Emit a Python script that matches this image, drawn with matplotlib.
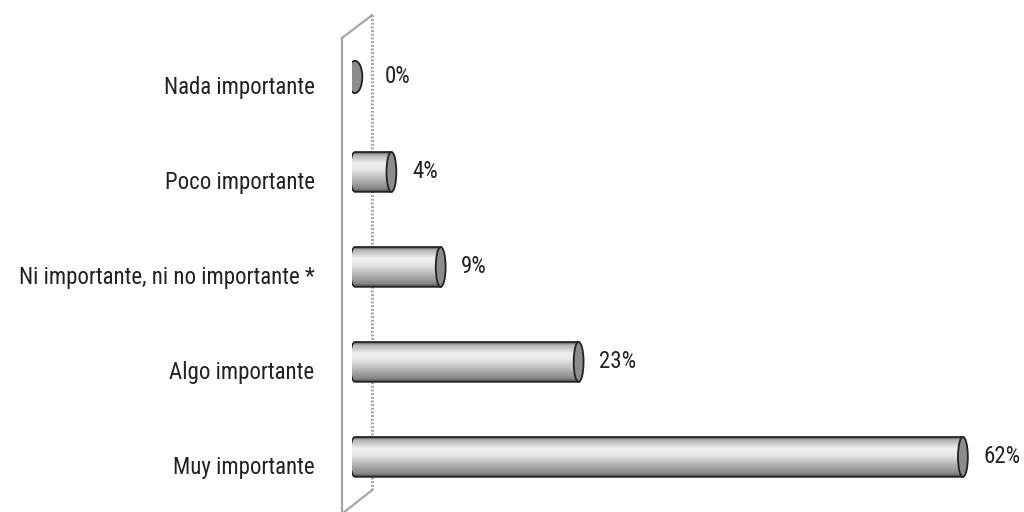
import numpy as np
import matplotlib.pyplot as plt
from matplotlib.colors import LinearSegmentedColormap
from matplotlib.patches import Ellipse, PathPatch
from matplotlib.path import Path

categories = ["Nada importante", "Poco importante", "Ni importante, ni no importante *",
              "Algo importante", "Muy importante"]
values = [0, 4, 9, 23, 62]
value_labels = ["0%", "4%", "9%", "23%", "62%"]

font = ["Roboto Condensed", "Liberation Sans", "DejaVu Sans"]

fig = plt.figure(figsize=(10.24, 5.12), dpi=100)
ax = fig.add_axes([352 / 1024, 0, 672 / 1024, 1])
ax.set_xlim(0, 68.2)
ax.set_ylim(4.58, -0.81)
ax.axis("off")

# back wall of the chart
wall = "#a6a6a6"
ax.plot([-1.02, -1.02], [-0.41, 4.6], color=wall, lw=1.6, clip_on=False, zorder=1)
ax.plot([2.03, 2.03], [-0.65, 4.35], color=wall, lw=2.2, ls=(0, (0.6, 0.6)),
        clip_on=False, zorder=1)
ax.plot([-1.02, 2.03], [-0.41, -0.65], color=wall, lw=1.6, clip_on=False, zorder=1)
ax.plot([-1.02, 2.03], [4.6, 4.35], color=wall, lw=1.6, clip_on=False, zorder=1)

shade = LinearSegmentedColormap.from_list(
    "cyl", [(0, "#4a4a4a"), (0.06, "#b0b0b0"), (0.28, "#f0f0f0"), (0.45, "#e6e6e6"),
            (0.78, "#a2a2a2"), (0.93, "#858585"), (1, "#3a3a3a")])
grad = np.linspace(0, 1, 64).reshape(-1, 1)

h = 0.42   # bar thickness in category units
cw = 1.0   # cap width in value units
x0 = 0.3

for i, (v, lab, txt) in enumerate(zip(values, categories, value_labels)):
    top, bot = i - h / 2, i + h / 2
    if v > 0:
        # outline: left half-ellipse plus straight body
        t = np.linspace(np.pi / 2, 3 * np.pi / 2, 40)
        left = np.column_stack([x0 + cw / 2 * np.cos(t), i - h / 2 * np.sin(t)])
        pts = np.vstack([[[v, top]], left, [[v, bot]], [[v, top]]])
        outline = PathPatch(Path(pts), facecolor="none", edgecolor="#222222", lw=1.2, zorder=3)
        ax.add_patch(outline)
        im = ax.imshow(grad, cmap=shade, aspect="auto", extent=(x0 - cw, v, bot, top),
                       zorder=2, interpolation="bilinear")
        im.set_clip_path(outline)
        cap = Ellipse((v, i), cw, h, facecolor="#8c8c8c", edgecolor="#222222", lw=1.3, zorder=4)
        lx = v + 2.1
    else:
        cap = Ellipse((0.3, i), 1.5, 0.34, facecolor="#8c8c8c", edgecolor="#222222",
                      lw=1.3, zorder=4)
        lx = 3.3
    ax.add_patch(cap)
    ax.text(lx, i, txt, ha="left", va="center", fontsize=16.5,
            family=font, color="#222222")
    ax.text(-3.8, i + 0.11, lab, ha="right", va="center", fontsize=16.5,
            family=font, color="#222222", clip_on=False)

fig.savefig("out.png", dpi=100, facecolor="white")
